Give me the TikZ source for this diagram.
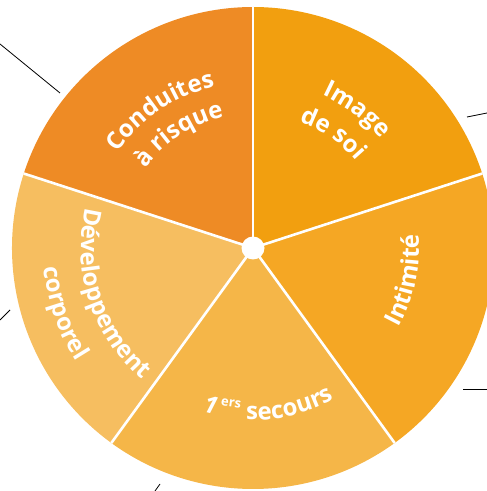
\documentclass[tikz,border=0pt]{standalone}
\usepackage{fontspec}
\setmainfont{Open Sans}
\usetikzlibrary{decorations.text, positioning}

\definecolor{RisqueOrange}{RGB}{238, 139, 37}
\definecolor{ImageOrange}{RGB}{242, 159, 15}
\definecolor{IntimeOrange}{RGB}{245, 167, 36}
\definecolor{SecoursOrange}{RGB}{245, 182, 72}
\definecolor{CorpsOrange}{RGB}{246, 190, 96}

\begin{document}
\begin{tikzpicture}[x=1pt, y=1pt,
    sep/.style={white, line width=2.6pt},
    link/.style={black, line width=0.8pt},
    arclabel/.style={decorate, decoration={text along path, text align=center, text color=white}}]
    \useasboundingbox (0,0) rectangle (487,491);
    \clip (0,0) rectangle (487,491);
    \coordinate (ctr) at (253,243);

    % Sectors
    \foreach \a/\b/\col in {90/162/RisqueOrange, 18/90/ImageOrange, -54/18/IntimeOrange, -126/-54/SecoursOrange, 162/234/CorpsOrange} {
        \fill[\col] (ctr) -- ([shift={(\a:241)}]ctr) arc[start angle=\a, end angle=\b, radius=241] -- cycle;
    }

    % Separators
    \foreach \a in {90, 18, -54, -126, 162} {
        \draw[sep] (ctr) -- ([shift={(\a:241)}]ctr);
    }
    \fill[white] (ctr) circle (11.5);

    % Labels along arcs
    \path[arclabel, decoration={text={|\fontsize{24}{28}\selectfont\bfseries|Conduites}}]
        ([shift={(170:166)}]ctr) arc[start angle=170, end angle=78, radius=166];
    \path[arclabel, decoration={text={|\fontsize{24}{28}\selectfont\bfseries|à risque}}]
        ([shift={(168:134)}]ctr) arc[start angle=168, end angle=78, radius=134];
    \path[arclabel, decoration={text={|\fontsize{24}{28}\selectfont\bfseries|Image}}]
        ([shift={(98:168)}]ctr) arc[start angle=98, end angle=8, radius=168];
    \path[arclabel, decoration={text={|\fontsize{24}{28}\selectfont\bfseries|de soi}}]
        ([shift={(100:135)}]ctr) arc[start angle=100, end angle=10, radius=135];
    \path[arclabel, decoration={text={|\fontsize{24}{28}\selectfont\bfseries|Intimité}}]
        ([shift={(-57:166)}]ctr) arc[start angle=-57, end angle=33, radius=166];
    \path[arclabel, decoration={text={|\fontsize{24}{28}\selectfont\bfseries|secours}}]
        ([shift={(-122:172)}]ctr) arc[start angle=-122, end angle=-32, radius=172];
    \node[text=white, font=\fontsize{24}{28}\selectfont\bfseries\itshape, rotate=-15] (un) at ([shift={(-105:162)}]ctr) {1};
    \node[text=white, font=\fontsize{13}{15}\selectfont\bfseries, rotate=-8] (ers) at ([shift={(-98:157)}]ctr) {ers};
    \path[arclabel, decoration={text={|\fontsize{24}{28}\selectfont\bfseries|Développement}}]
        ([shift={(153:172)}]ctr) arc[start angle=153, end angle=243, radius=172];
    \path[arclabel, decoration={text={|\fontsize{24}{28}\selectfont\bfseries|corporel}}]
        ([shift={(154:210)}]ctr) arc[start angle=154, end angle=244, radius=210];

    % Outgoing links
    \coordinate (lkA1) at (0,447);   \coordinate (lkA2) at (60,398);
    \coordinate (lkB1) at (467,374); \coordinate (lkB2) at (487,378);
    \coordinate (lkC1) at (463,102); \coordinate (lkC2) at (487,102);
    \coordinate (lkD1) at (0,171);   \coordinate (lkD2) at (10,181);
    \coordinate (lkE1) at (155,0);   \coordinate (lkE2) at (160,7);
    \draw[link] (lkA1) -- (lkA2);
    \draw[link] (lkB1) -- (lkB2);
    \draw[link] (lkC1) -- (lkC2);
    \draw[link] (lkD1) -- (lkD2);
    \draw[link] (lkE1) -- (lkE2);
\end{tikzpicture}
\end{document}
